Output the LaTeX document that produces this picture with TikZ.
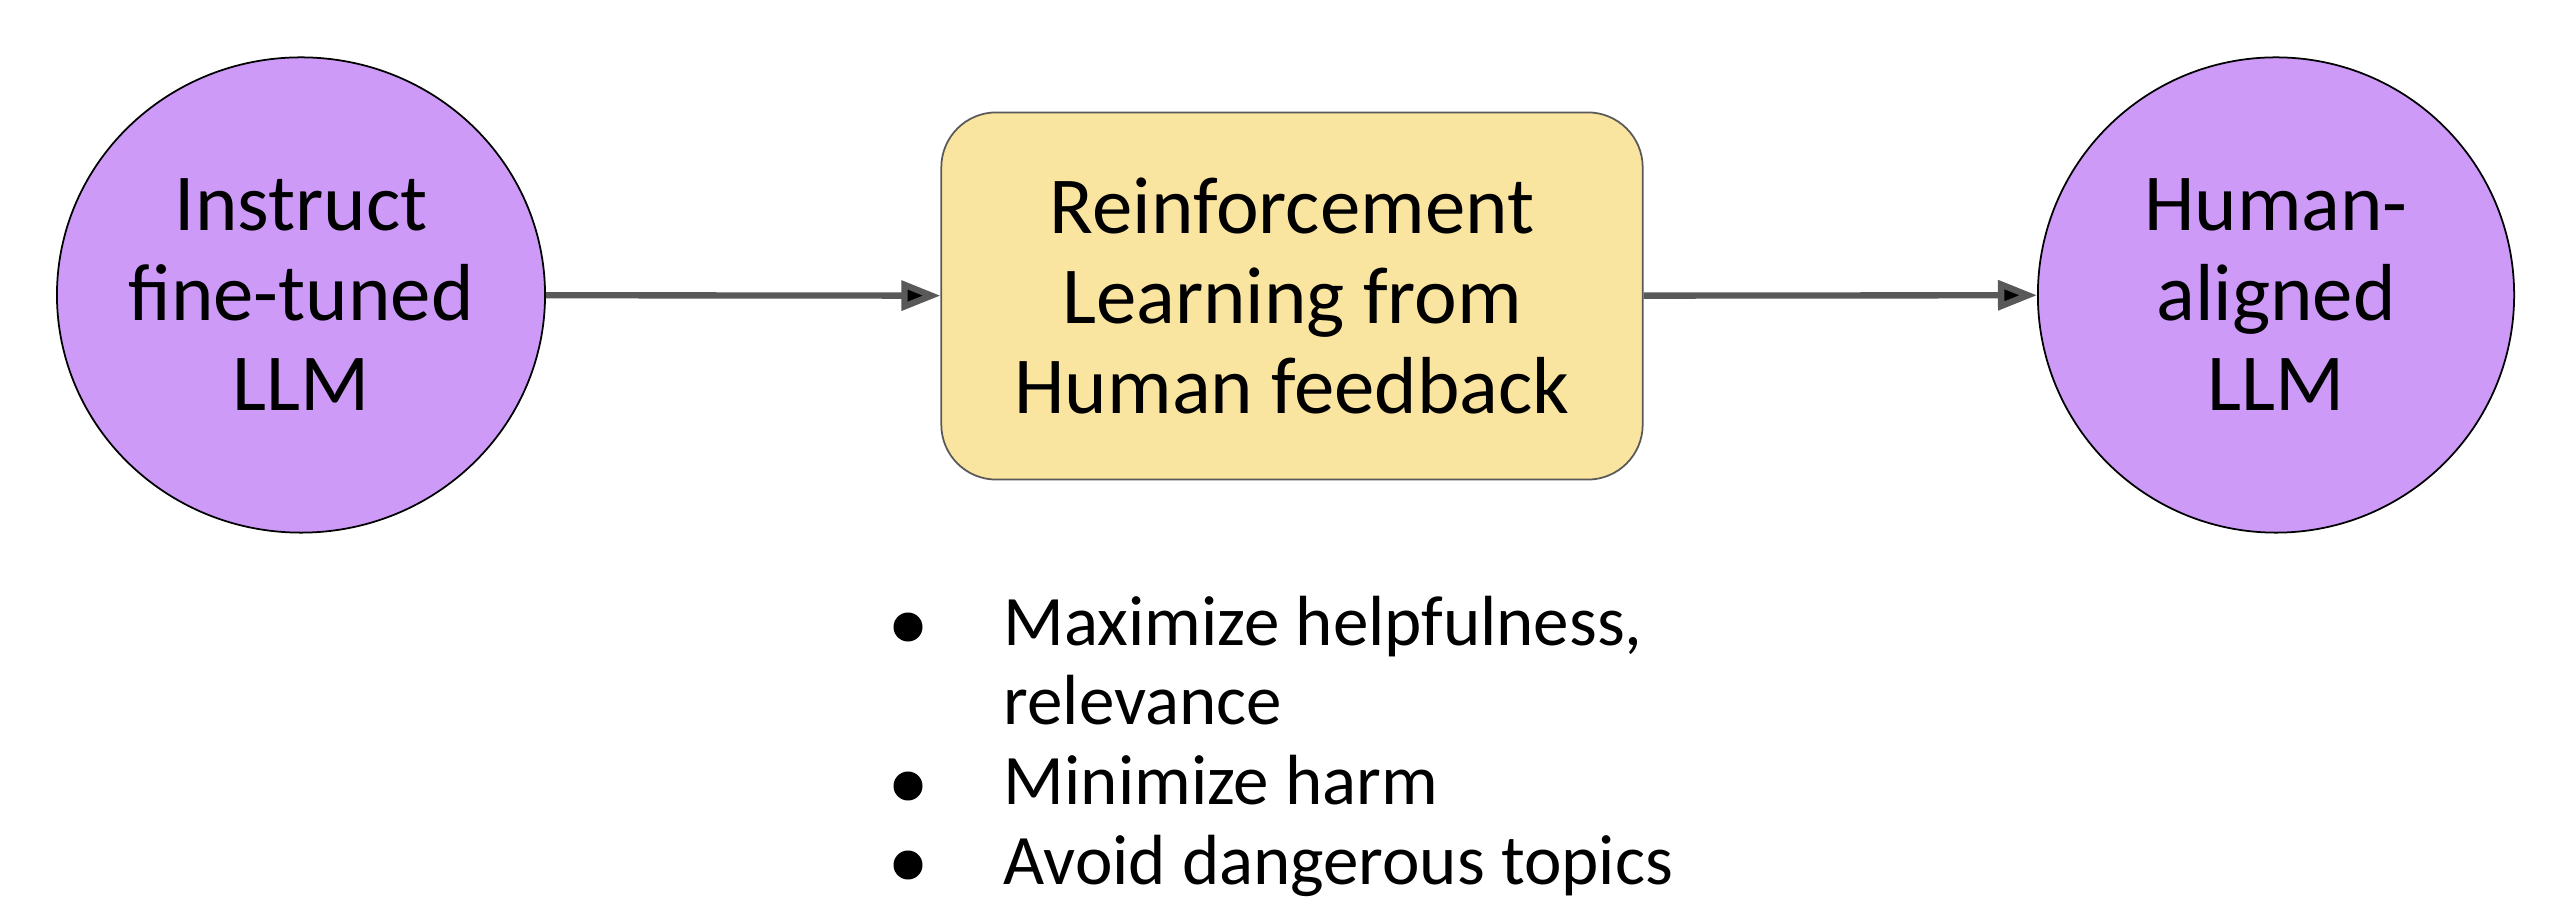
\documentclass[tikz,border=0pt]{standalone}
\usepackage{fontspec}
\setmainfont{Carlito}
\usetikzlibrary{arrows.meta,shapes.geometric}
\definecolor{llmpurple}{RGB}{205,155,247}
\definecolor{rlhfyellow}{RGB}{250,229,160}
\definecolor{arrowgray}{RGB}{89,89,89}
\begin{document}
\begin{tikzpicture}[x=0.01cm, y=-0.01cm,
    model/.style={ellipse, draw=black, line width=0.5pt, fill=llmpurple,
                  minimum width=4.86cm, minimum height=4.75cm, inner sep=0pt, align=center,
                  font=\fontsize{23}{25.6}\selectfont},
    stage/.style={rectangle, rounded corners=0.55cm, draw=arrowgray, line width=0.5pt,
                  fill=rlhfyellow, minimum width=7.01cm, minimum height=3.67cm,
                  align=center, font=\fontsize{23}{25.6}\selectfont},
    flow/.style={draw=arrowgray, line width=1.8pt,
                 -{Triangle[length=0.39cm, width=0.29cm]}},
    dot/.style={circle, fill=black, minimum size=0.29cm, inner sep=0pt},
    item/.style={anchor=base west, inner sep=0pt, font=\fontsize{20.2}{22.7}\selectfont}]
  \useasboundingbox (0,0) rectangle (2566,922);

  % the three stages
  \node (IFT)  [model] at (301,295)  {Instruct\\fine-tuned\\LLM};
  \node (RLHF) [stage] at (1292,296) {Reinforcement\\Learning from\\Human feedback};
  \node (HAL)  [model, minimum width=4.76cm] at (2276,295) {Human-\\aligned\\LLM};

  \path [flow] (IFT) edge (RLHF);
  \path [flow] (RLHF) edge (HAL);

  % goals
  \node (B1) [dot] at (908,627) {};
  \node (B2) [dot] at (908,786) {};
  \node (B3) [dot] at (908,865) {};

  \node (G1) [item] at (1003,646) {Maximize helpfulness,};
  \node (G1b)[item] at (1003,725) {relevance};
  \node (G2) [item] at (1003,805) {Minimize harm};
  \node (G3) [item] at (1003,884) {Avoid dangerous topics};
\end{tikzpicture}
\end{document}
